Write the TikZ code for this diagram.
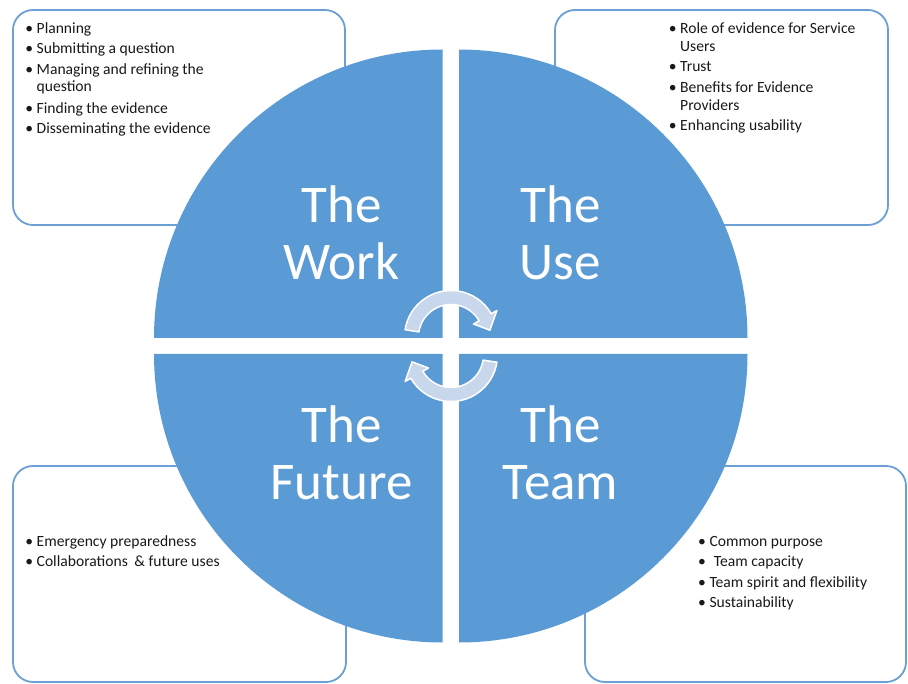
\documentclass[tikz,border=0pt]{standalone}
\usepackage{fontspec}
\setmainfont{Carlito}
\definecolor{quadblue}{RGB}{91,155,213}
\definecolor{boxblue}{RGB}{108,160,212}
\definecolor{arrowfill}{RGB}{200,215,236}
\newcommand{\bul}{\makebox[10.5pt][l]{\hspace{-0.8pt}\textbullet}}
\begin{document}
\begin{tikzpicture}[x=1pt,y=1pt,
  infobox/.style={draw=boxblue, line width=1.8pt, rounded corners=20pt, fill=white, inner sep=0pt},
  quad/.style={fill=quadblue},
  bigtext/.style={text=white, font=\fontsize{53}{57}\selectfont, anchor=base, inner sep=0pt},
  item/.style={anchor=base west, inner sep=0pt, font=\fontsize{15.6}{17}\selectfont, text=black!90},
  cyc/.style={fill=arrowfill, draw=white, line width=1.5pt, line join=round}]
\fill[white] (0,0) rectangle (908,-684);
\useasboundingbox (0,0) rectangle (908,-684);

% boxes
\node[infobox, minimum width=332pt, minimum height=215pt] (boxTL) at (179,-117.5) {};
\node[infobox, minimum width=333pt, minimum height=215pt] (boxTR) at (721.5,-117.5) {};
\node[infobox, minimum width=333pt, minimum height=216pt] (boxBL) at (179.5,-574) {};
\node[infobox, minimum width=321pt, minimum height=216pt] (boxBR) at (745.5,-574) {};

% quadrants
\fill[quad] (442.5pt,-338pt) -- ++(-288.5pt,0pt) arc[start angle=180, end angle=90, radius=288.5pt] -- cycle;
\fill[quad] (459pt,-338pt) -- ++(0pt,288.5pt) arc[start angle=90, end angle=0, radius=288.5pt] -- cycle;
\fill[quad] (442.5pt,-354pt) -- ++(-288.5pt,0pt) arc[start angle=180, end angle=270, radius=288.5pt] -- cycle;
\fill[quad] (459pt,-354pt) -- ++(288.5pt,0pt) arc[start angle=0, end angle=-90, radius=288.5pt] -- cycle;

% big labels
\node[bigtext] (workA) at (341.5,-222.7) {The};
\node[bigtext] (workB) at (341.5,-280) {Work};
\node[bigtext] (useA) at (560.5,-222.7) {The};
\node[bigtext] (useB) at (560.5,-280) {Use};
\node[bigtext] (futA) at (341.5,-442.2) {The};
\node[bigtext] (futB) at (341.5,-499.5) {Future};
\node[bigtext] (teamA) at (560.5,-442.2) {The};
\node[bigtext] (teamB) at (560.5,-499.5) {Team};

% cycle arrows
\begin{scope}[shift={(451pt,-337pt)}]
\draw[cyc] (171:46.5pt) arc[start angle=171, end angle=30, radius=46.5pt]
  -- (30:53pt) -- (10:39.5pt) -- (30:26pt) -- (30:32.5pt)
  arc[start angle=30, end angle=171, radius=32.5pt] -- cycle;
\end{scope}
\begin{scope}[shift={(451pt,-355pt)}]
\draw[cyc] (351:46.5pt) arc[start angle=351, end angle=210, radius=46.5pt]
  -- (210:53pt) -- (190:39.5pt) -- (210:26pt) -- (210:32.5pt)
  arc[start angle=210, end angle=351, radius=32.5pt] -- cycle;
\end{scope}

% top-left list
\node[item] (tl1) at (26,-33.3) {\bul Planning};
\node[item] (tl2) at (26,-54) {\bul Submitting a question};
\node[item] (tl3) at (26,-75) {\bul Managing and refining the};
\node[item] (tl4) at (36.5,-91.7) {question};
\node[item] (tl5) at (26,-113.3) {\bul Finding the evidence};
\node[item] (tl6) at (26,-133.3) {\bul Disseminating the evidence};

% top-right list
\node[item] (tr1) at (669.5,-34) {\bul Role of evidence for Service};
\node[item] (tr2) at (680,-51.7) {Users};
\node[item] (tr3) at (669.5,-71.7) {\bul Trust};
\node[item] (tr4) at (669.5,-92.7) {\bul Benefits for Evidence};
\node[item] (tr5) at (680,-110.7) {Providers};
\node[item] (tr6) at (669.5,-131) {\bul Enhancing usability};

% bottom-left list
\node[item] (bl1) at (26,-546.7) {\bul Emergency preparedness};
\node[item] (bl2) at (26,-566.7) {\bul Collaborations\hspace{3pt} \& future uses};

% bottom-right list
\node[item] (br1) at (698.8,-546.7) {\bul Common purpose};
\node[item] (br2) at (698.8,-566.7) {\bul\hspace{4.5pt}Team capacity};
\node[item] (br3) at (698.8,-587.3) {\bul Team spirit and flexibility};
\node[item] (br4) at (698.8,-607.7) {\bul Sustainability};
\end{tikzpicture}
\end{document}
